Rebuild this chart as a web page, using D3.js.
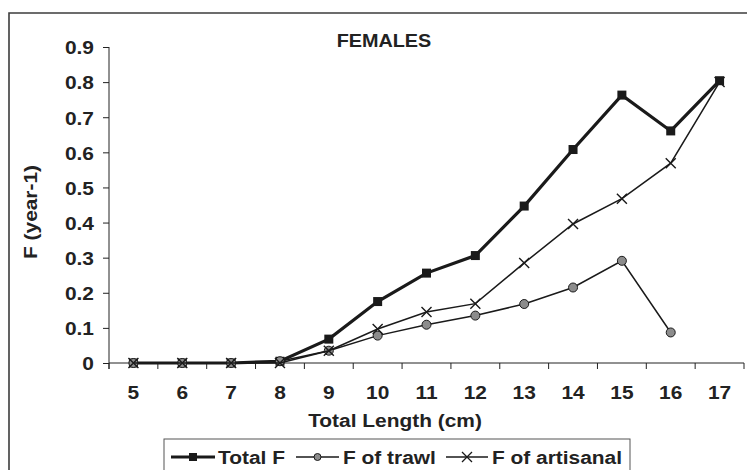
<!DOCTYPE html>
<html>
<head>
<meta charset="utf-8">
<script src="https://cdn.jsdelivr.net/npm/d3@7"></script>
<style>
  html, body { margin: 0; padding: 0; background: #fff; }
  svg { display: block; }
  text { font-family: "Liberation Sans", Arial, sans-serif; font-weight: bold; fill: #222; }
</style>
</head>
<body>
<script>
// ---- data ----
const lengths = [5, 6, 7, 8, 9, 10, 11, 12, 13, 14, 15, 16, 17];
const totalF = [0, 0, 0, 0.005, 0.068, 0.175, 0.256, 0.306, 0.447, 0.608, 0.763, 0.661, 0.804];
const trawlF = [0, 0, 0, 0.005, 0.035, 0.078, 0.109, 0.135, 0.168, 0.215, 0.291, 0.087, null];
const artisanalF = [0, 0, 0, 0, 0.035, 0.097, 0.145, 0.169, 0.285, 0.396, 0.468, 0.569, 0.80];
const yTicks = [0, 0.1, 0.2, 0.3, 0.4, 0.5, 0.6, 0.7, 0.8, 0.9];
const yTickLabels = ["0", "0.1", "0.2", "0.3", "0.4", "0.5", "0.6", "0.7", "0.8", "0.9"];
const seriesNames = ["Total F", "F of trawl", "F of artisanal"];
const titleText = "FEMALES";
const xTitle = "Total Length (cm)";
const yTitle = "F (year-1)";

const W = 747, H = 470;
const SX = 1.1; // horizontal text stretch
const FS = 19;
const svg = d3.select("body").append("svg").attr("width", W).attr("height", H);

// outer frame
svg.append("path").attr("d", `M9,${H + 2} L9,13 L${W + 2},13`)
  .attr("fill", "none").attr("stroke", "#3c3c3c").attr("stroke-width", 1.6);

const x = d3.scaleBand().domain(lengths).range([109, 744]);
const y = d3.scaleLinear().domain([0, 0.9]).range([363, 47]);
const cx = d => x(d) + x.bandwidth() / 2;

// y axis
const gy = svg.append("g").attr("transform", "translate(109,0)")
  .call(d3.axisLeft(y).tickValues(yTicks).tickSize(6).tickPadding(8)
    .tickFormat((d, i) => yTickLabels[i]));
gy.select(".domain").remove();
gy.append("line").attr("x1", 0).attr("x2", 0).attr("y1", y(0.9)).attr("y2", 369)
  .attr("stroke", "#222").attr("stroke-width", 1);
gy.selectAll(".tick line").attr("stroke", "#222");
gy.selectAll(".tick text").attr("font-size", FS).attr("fill", "#222")
  .attr("font-family", '"Liberation Sans", Arial, sans-serif').attr("font-weight", "bold")
  .attr("x", 0).attr("dy", "0.36em")
  .attr("transform", `translate(-15,0) scale(${SX},1)`);

// x axis (labels at band centers, ticks at band boundaries)
const gx = svg.append("g").attr("transform", `translate(0,${y(0)})`)
  .call(d3.axisBottom(x).tickSize(0).tickPadding(23));
gx.select(".domain").remove();
gx.append("line").attr("x1", 109).attr("x2", 744).attr("y1", 0).attr("y2", 0)
  .attr("stroke", "#222");
const bounds = lengths.map(d => x(d)).concat([x(lengths[lengths.length - 1]) + x.bandwidth()]);
gx.selectAll("line.btick").data(bounds).join("line").attr("class", "btick")
  .attr("x1", d => d).attr("x2", d => d).attr("y1", 0).attr("y2", 6).attr("stroke", "#222");
gx.selectAll(".tick text").attr("font-size", FS).attr("fill", "#222")
  .attr("font-family", '"Liberation Sans", Arial, sans-serif').attr("font-weight", "bold")
  .attr("transform", `scale(${SX},1)`);

// titles
function stText(px, py, txt, size, anchor, rot) {
  return svg.append("text")
    .attr("transform", `translate(${px},${py})` + (rot ? ` rotate(${rot})` : "") + ` scale(${SX},1)`)
    .attr("text-anchor", anchor).attr("font-size", size).text(txt);
}
stText(384, 47, titleText, 18, "middle");
stText(395, 427, xTitle, FS, "middle");
stText(37, 212, yTitle, FS, "middle", -90);

// series
const line = d3.line().defined(d => d[1] !== null).x(d => cx(d[0])).y(d => y(d[1]));
const pts = arr => lengths.map((l, i) => [l, arr[i]]);

// Total F
svg.append("path").datum(pts(totalF)).attr("d", line)
  .attr("fill", "none").attr("stroke", "#1a1a1a").attr("stroke-width", 3.2).attr("stroke-linejoin", "miter");
svg.selectAll("rect.tot").data(pts(totalF)).join("rect").attr("class", "tot")
  .attr("x", d => cx(d[0]) - 4.5).attr("y", d => y(d[1]) - 4.5).attr("width", 9).attr("height", 9)
  .attr("fill", "#1a1a1a");

// F of trawl
const trawlPts = pts(trawlF).filter(d => d[1] !== null);
svg.append("path").datum(trawlPts).attr("d", line)
  .attr("fill", "none").attr("stroke", "#1a1a1a").attr("stroke-width", 1.5);
svg.selectAll("circle.tr").data(trawlPts).join("circle").attr("class", "tr")
  .attr("cx", d => cx(d[0])).attr("cy", d => y(d[1])).attr("r", 4.5)
  .attr("fill", "#8c8c8c").attr("stroke", "#1a1a1a").attr("stroke-width", 1);

// F of artisanal
svg.append("path").datum(pts(artisanalF)).attr("d", line)
  .attr("fill", "none").attr("stroke", "#1a1a1a").attr("stroke-width", 1.5);
const xm = 5;
svg.selectAll("path.art").data(pts(artisanalF)).join("path").attr("class", "art")
  .attr("d", d => {
    const px = cx(d[0]), py = y(d[1]);
    return `M${px - xm},${py - xm}L${px + xm},${py + xm}M${px - xm},${py + xm}L${px + xm},${py - xm}`;
  })
  .attr("stroke", "#1a1a1a").attr("stroke-width", 1.4).attr("fill", "none");

// legend
const lg = svg.append("g");
lg.append("rect").attr("x", 164).attr("y", 439).attr("width", 466).attr("height", 40)
  .attr("fill", "#fff").attr("stroke", "#555").attr("stroke-width", 1);
const legendItems = [
  { name: seriesNames[0], x1: 171, x2: 215, tx: 218, w: 3.2, mark: "sq" },
  { name: seriesNames[1], x1: 296, x2: 339, tx: 343, w: 1.5, mark: "ci" },
  { name: seriesNames[2], x1: 446, x2: 488, tx: 492, w: 1.5, mark: "x" }
];
const ly = 457;
legendItems.forEach(it => {
  lg.append("line").attr("x1", it.x1).attr("x2", it.x2).attr("y1", ly).attr("y2", ly)
    .attr("stroke", "#1a1a1a").attr("stroke-width", it.w);
  const mx = (it.x1 + it.x2) / 2;
  if (it.mark === "sq") {
    lg.append("rect").attr("x", mx - 4).attr("y", ly - 4).attr("width", 8).attr("height", 8).attr("fill", "#1a1a1a");
  } else if (it.mark === "ci") {
    lg.append("circle").attr("cx", mx).attr("cy", ly).attr("r", 3.5)
      .attr("fill", "#8c8c8c").attr("stroke", "#1a1a1a").attr("stroke-width", 1);
  } else {
    lg.append("path").attr("d", `M${mx - 5},${ly - 5}L${mx + 5},${ly + 5}M${mx - 5},${ly + 5}L${mx + 5},${ly - 5}`)
      .attr("stroke", "#1a1a1a").attr("stroke-width", 1.3);
  }
  lg.append("text").attr("transform", `translate(${it.tx},${ly + 7}) scale(${SX},1)`)
    .attr("font-size", FS).text(it.name);
});
</script>
</body>
</html>
